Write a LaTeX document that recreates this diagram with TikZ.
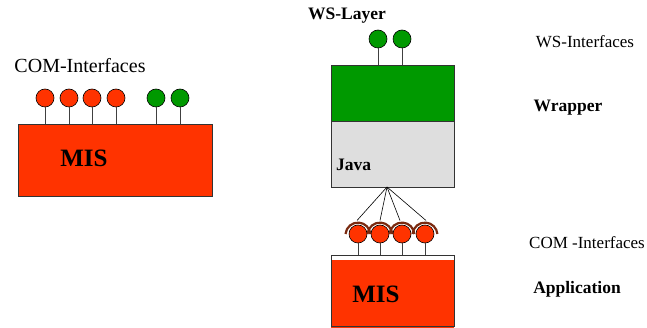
\documentclass[tikz,border=0pt]{standalone}
\usepackage{fontspec}
\setmainfont{Liberation Serif}
\begin{document}
\begin{tikzpicture}[x=1pt,y=-1pt,
  redc/.style={circle,draw=black,line width=0.6pt,fill=misred,minimum size=18pt,inner sep=0pt},
  greenc/.style={circle,draw=black,line width=0.6pt,fill=wsgreen,minimum size=18pt,inner sep=0pt},
  stem/.style={draw=black!75,line width=0.8pt},
  boxbase/.style={rectangle,draw=black!80,line width=0.8pt,inner sep=0pt,anchor=north west},
  lbl/.style={font=\fontsize{17}{17}\selectfont,inner sep=0pt},
  blbl/.style={font=\fontsize{17.5}{17.5}\selectfont\bfseries,inner sep=0pt},
  mis/.style={font=\fontsize{25}{25}\selectfont\bfseries,inner sep=0pt},
  socket/.style={draw=arcc,line width=2.2pt},
  wire/.style={draw=black,line width=0.6pt}]
\definecolor{misred}{HTML}{FF3300}
\definecolor{wsgreen}{HTML}{009900}
\definecolor{javagray}{HTML}{DEDEDE}
\definecolor{arcc}{HTML}{7A2A10}
\useasboundingbox (0,0) rectangle (647,328);

% ---- left: MIS with COM interfaces
\node[boxbase,fill=misred,minimum width=194pt,minimum height=72pt] (lmis) at (18,124) {};
\node[mis] (lmistxt) at (84,158) {MIS};
\node[font=\fontsize{20}{20}\selectfont,inner sep=0pt] (lcom) at (80,66) {COM-Interfaces};
\foreach \n/\x/\s in {l1/45/redc,l2/69/redc,l3/92/redc,l4/116/redc,l5/156/greenc,l6/180/greenc}{
  \node[\s] (\n) at (\x,98) {};
  \draw[stem] (\n.south) -- (\n.south |- lmis.north);
}

% ---- right: wrapper
\node[boxbase,fill=wsgreen,minimum width=123pt,minimum height=56pt] (wrap) at (331,65) {};
\node[boxbase,fill=javagray,minimum width=123pt,minimum height=66pt] (java) at (331,121) {};
\node[blbl,anchor=west] (javatxt) at (336,165) {Java};
\node[blbl] (wslayer) at (347,16) {WS-Layer};
\foreach \n/\x in {g1/378,g2/402}{
  \node[greenc] (\n) at (\x,39) {};
  \draw[stem] (\n.south) -- (\n.south |- wrap.north);
}

% ---- right: application MIS
\fill[white] (331,255) rectangle (454,260);
\fill[misred] (331,260) rectangle (454,328);
\draw[black!80,line width=0.8pt] (331,326) -- (331,255) -- (454,255) -- (454,326) -- cycle;
\node[inner sep=0pt,minimum width=123pt,minimum height=71pt,anchor=north west] (rmis) at (331,255) {};
\node[mis] (rmistxt) at (376,294) {MIS};

\coordinate (hub) at (387,187);
\foreach \n/\x in {s1/358,s2/380,s3/402,s4/425}{
  \node[redc] (\n) at (\x,234) {};
  \draw[socket] ([shift={(-12.5,0)}]\n.center) arc[start angle=175,end angle=5,radius=12.5pt];
  \draw[stem] (\n.south) -- (\n.south |- rmis.north);
}
\draw[wire] (hub) -- ([shift={(-1,-13.5)}]s1.center);
\draw[wire] (hub) -- ([shift={(0,-13.5)}]s2.center);
\draw[wire] (hub) -- ([shift={(-2,-13.5)}]s3.center);
\draw[wire] (hub) -- ([shift={(1,-13.5)}]s4.center);

% ---- right labels
\node[lbl] (wsif) at (585,42) {WS-Interfaces};
\node[blbl] (wrapper) at (568,108) {Wrapper};
\node[lbl] (comif) at (587,243) {COM -Interfaces};
\node[blbl] (app) at (577,289) {Application};
\end{tikzpicture}
\end{document}
